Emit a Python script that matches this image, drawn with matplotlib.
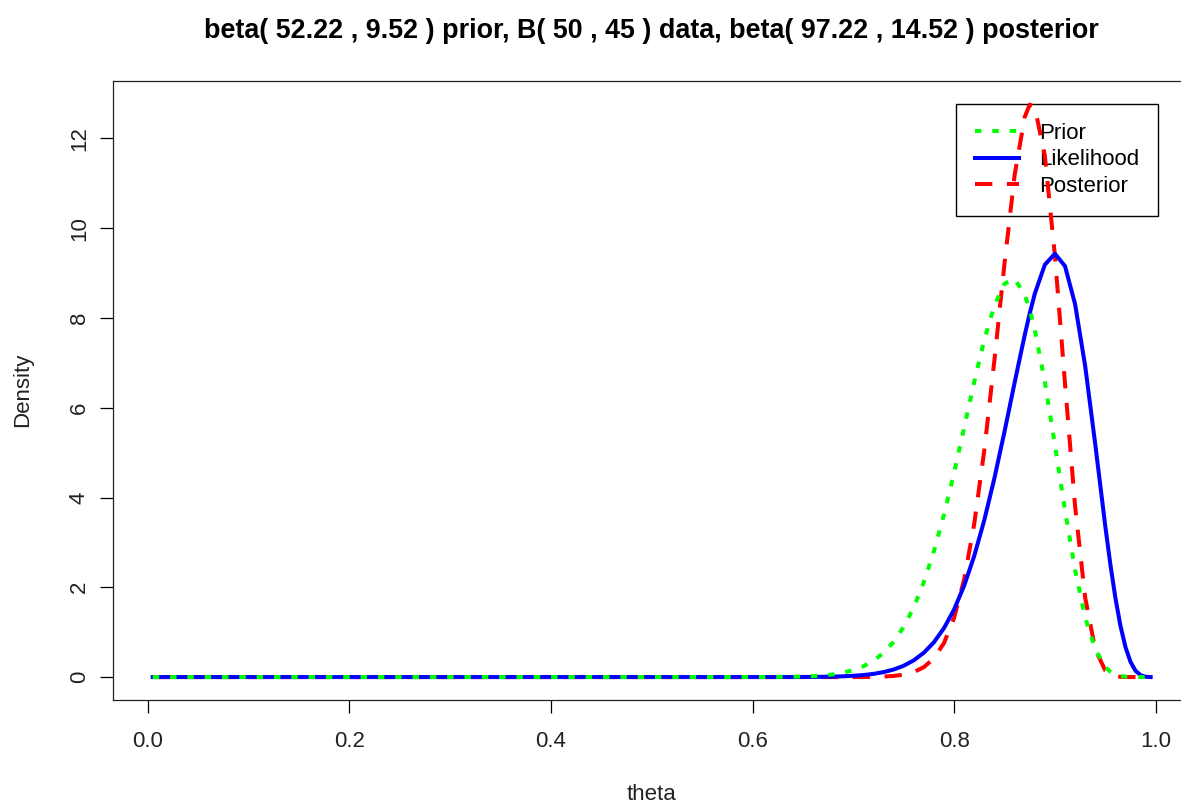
"""Prior / likelihood / posterior densities for a beta-binomial update."""
import matplotlib
matplotlib.use("Agg")
import matplotlib.pyplot as plt

plt.rcParams["font.family"] = ["Liberation Sans", "DejaVu Sans"]

# densities (zero outside 0.60-0.995)
theta = [0.005, 0.60, 0.62, 0.64, 0.65, 0.66, 0.67, 0.68, 0.69, 0.70,
         0.71, 0.72, 0.73, 0.74, 0.75, 0.76, 0.77, 0.78, 0.79, 0.80,
         0.81, 0.82, 0.83, 0.84, 0.85, 0.86, 0.87, 0.875, 0.88, 0.89,
         0.90, 0.91, 0.92, 0.93, 0.94, 0.95, 0.955, 0.96, 0.965, 0.97,
         0.975, 0.98, 0.985, 0.99, 0.995]
prior = [0, 0.0006, 0.0023, 0.0074, 0.013, 0.022, 0.037, 0.061, 0.098, 0.154,
         0.239, 0.363, 0.540, 0.785, 1.119, 1.557, 2.116, 2.807, 3.626, 4.557,
         5.561, 6.577, 7.520, 8.282, 8.765, 8.870, 8.524, 8.184, 7.738, 6.579,
         5.172, 3.714, 2.383, 1.329, 0.618, 0.225, 0.120, 0.057, 0.024, 0.008,
         0.0023, 0.0005, 0.0001, 0, 0]
likelihood = [0, 0, 0, 0.001, 0.002, 0.0037, 0.0063, 0.0105, 0.017, 0.028,
              0.045, 0.071, 0.110, 0.168, 0.252, 0.373, 0.543, 0.776, 1.092, 1.506,
              2.038, 2.702, 3.502, 4.434, 5.469, 6.558, 7.616, 8.101, 8.537, 9.187,
              9.431, 9.157, 8.309, 6.932, 5.190, 3.357, 2.511, 1.763, 1.142, 0.667,
              0.338, 0.139, 0.042, 0.007, 0.0003]
posterior = [0, 0, 0, 0, 0, 0, 0, 0, 0.0003, 0.0008,
             0.002, 0.0049, 0.011, 0.025, 0.054, 0.112, 0.221, 0.419, 0.760, 1.319,
             2.179, 3.419, 5.062, 7.063, 9.216, 11.178, 12.476, 12.754, 12.700, 11.614,
             9.387, 6.542, 3.808, 1.773, 0.617, 0.145, 0.058, 0.020, 0.005, 0.001,
             0.0003, 0, 0, 0, 0]

title = ("beta( 52.22 , 9.52 ) prior, B( 50 , 45 ) data, "
         "beta( 97.22 , 14.52 ) posterior")

W, H = 1181, 805
fig = plt.figure(figsize=(W / 100, H / 100), dpi=100)
# plot region in pixels: left 112.7, right 1190.7 (cropped), top 81, bottom 700
ax = fig.add_axes([112.7 / W, (H - 700) / H, (1190.7 - 112.7) / W, (700 - 81) / H])

lw = 2.9
# drawn posterior first, prior last (as in the original)
ax.plot(theta, posterior, color="#ff0000", lw=lw, dashes=(4.3, 3.6), zorder=2,
        label="Posterior")
ax.plot(theta, likelihood, color="#0000ff", lw=lw, zorder=3, label="Likelihood")
ax.plot(theta, prior, color="#00ff00", lw=lw, dashes=(1.6, 2.7), zorder=4,
        label="Prior")

ax.set_xlim(-0.0347, 1.0347)
ax.set_ylim(-0.511, 13.28)
ax.set_xticks([0.0, 0.2, 0.4, 0.6, 0.8, 1.0])
ax.set_xticklabels(["0.0", "0.2", "0.4", "0.6", "0.8", "1.0"])
ax.set_yticks([0, 2, 4, 6, 8, 10, 12])
ax.tick_params(axis="both", direction="out", length=9.1, width=0.9,
               labelsize=16, colors="black", labelcolor="#222222")
ax.tick_params(axis="x", pad=13)
ax.tick_params(axis="y", pad=7.4, labelrotation=90)
for lab in ax.get_yticklabels():
    lab.set_va("center")
for sp in ax.spines.values():
    sp.set_linewidth(0.9)
    sp.set_color("#222222")

fig.text(651.7 / W, 1 - 38 / H, title, ha="center", va="baseline",
         fontsize=19.4, fontweight="bold")
fig.text(651.7 / W, 1 - 800 / H, "theta", ha="center", va="baseline",
         fontsize=16, color="#222222")
fig.text(23 / W, 1 - 390 / H, "Density", ha="center", va="center",
         rotation=90, fontsize=16, color="#222222")

h, l = ax.get_legend_handles_labels()
order = [2, 1, 0]
leg = ax.legend([h[i] for i in order], [l[i] for i in order],
                loc="upper left", bbox_to_anchor=(956 / W, 1 - 104 / H),
                bbox_transform=fig.transFigure, borderaxespad=0,
                fontsize=16, frameon=True, fancybox=False, framealpha=1,
                edgecolor="black", handlelength=2.0, handletextpad=0.9,
                labelspacing=0.25, borderpad=0.85)
leg.get_frame().set_linewidth(1.0)
leg.set_zorder(1)

fig.savefig("out.png", dpi=100)
